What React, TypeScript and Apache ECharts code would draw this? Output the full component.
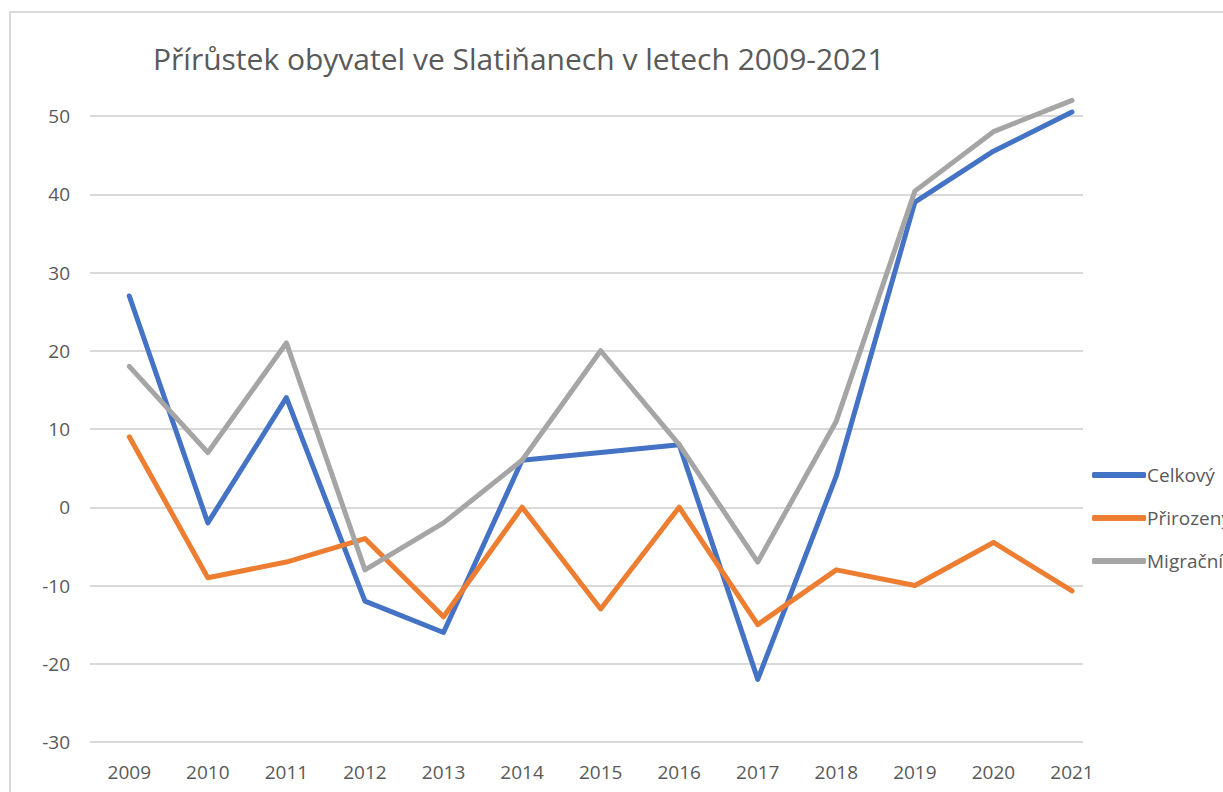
import React, { useEffect, useRef } from "react";
import * as echarts from "echarts";

const years = [2009, 2010, 2011, 2012, 2013, 2014, 2015, 2016, 2017, 2018, 2019, 2020, 2021];
const celkovy = [27, -2, 14, -12, -16, 6, 7, 8, -22, 4, 39, 45.5, 50.5];
const prirozeny = [9, -9, -7, -4, -14, 0, -13, 0, -15, -8, -10, -4.5, -10.7];
const migracni = [18, 7, 21, -8, -2, 6, 20, 8, -7, 11, 40.4, 48, 52];
const yTicks = { min: -30, max: 50, interval: 10 };
const titleText = "Přírůstek obyvatel ve Slatiňanech v letech 2009-2021";

const FONT = "'Open Sans', 'Liberation Sans', sans-serif";
const TEXT_COLOR = "#595959";

export default function App() {
  const ref = useRef<HTMLDivElement>(null);
  useEffect(() => {
    document.body.style.margin = "0";
    if (!ref.current) return;
    const chart = echarts.init(ref.current, null, { renderer: "svg" });
    const pairs = (vals: number[]) => years.map((y, i) => [y, vals[i]]);
    const mk = (name: string, vals: number[], color: string) => ({
      name,
      type: "line",
      data: pairs(vals),
      showSymbol: false,
      symbol: "none",
      clip: false,
      lineStyle: { color, width: 5, cap: "round", join: "round" },
      itemStyle: { color },
    });
    chart.setOption({
      animation: false,
      backgroundColor: "#ffffff",
      textStyle: { fontFamily: FONT },
      title: {
        text: titleText,
        left: 148,
        top: 38,
        textStyle: { fontFamily: FONT, fontSize: 30, fontWeight: "normal", color: TEXT_COLOR },
      },
      graphic: [
        {
          type: "rect",
          shape: { x: 10, y: 12, width: 1400, height: 1000 },
          style: { fill: "none", stroke: "#d9d9d9", lineWidth: 2 },
          silent: true,
        },
      ],
      legend: {
        orient: "vertical",
        left: 1087,
        top: 460,
        itemWidth: 54,
        itemHeight: 6,
        itemGap: 23,
        icon: "roundRect",
        textStyle: { fontFamily: FONT, fontSize: 19, color: TEXT_COLOR, lineHeight: 20, padding: [0, 0, 0, -4] },
        data: ["Celkový", "Přirozený", "Migrační"],
      },
      grid: { left: 90, right: 1223 - 1083, top: 116, bottom: 792 - 742, containLabel: false },
      xAxis: {
        type: "value",
        min: 2008.5,
        max: 2021.14,
        axisLine: { show: false },
        axisTick: { show: false },
        splitLine: { show: false },
        axisLabel: {
          customValues: years,
          formatter: (v: number) => String(v),
          fontFamily: FONT,
          fontSize: 19,
          color: TEXT_COLOR,
          margin: 20,
        },
      },
      yAxis: {
        type: "value",
        min: yTicks.min,
        max: yTicks.max,
        interval: yTicks.interval,
        axisLine: { show: false },
        axisTick: { show: false },
        splitLine: { lineStyle: { color: "#d9d9d9", width: 2 } },
        axisLabel: { fontFamily: FONT, fontSize: 19, color: TEXT_COLOR, margin: 20 },
      },
      series: [
        mk("Celkový", celkovy, "#4472C4"),
        mk("Přirozený", prirozeny, "#ED7D31"),
        mk("Migrační", migracni, "#A5A5A5"),
      ],
    });
    return () => chart.dispose();
  }, []);
  return <div ref={ref} style={{ width: 1223, height: 792 }} />;
}
